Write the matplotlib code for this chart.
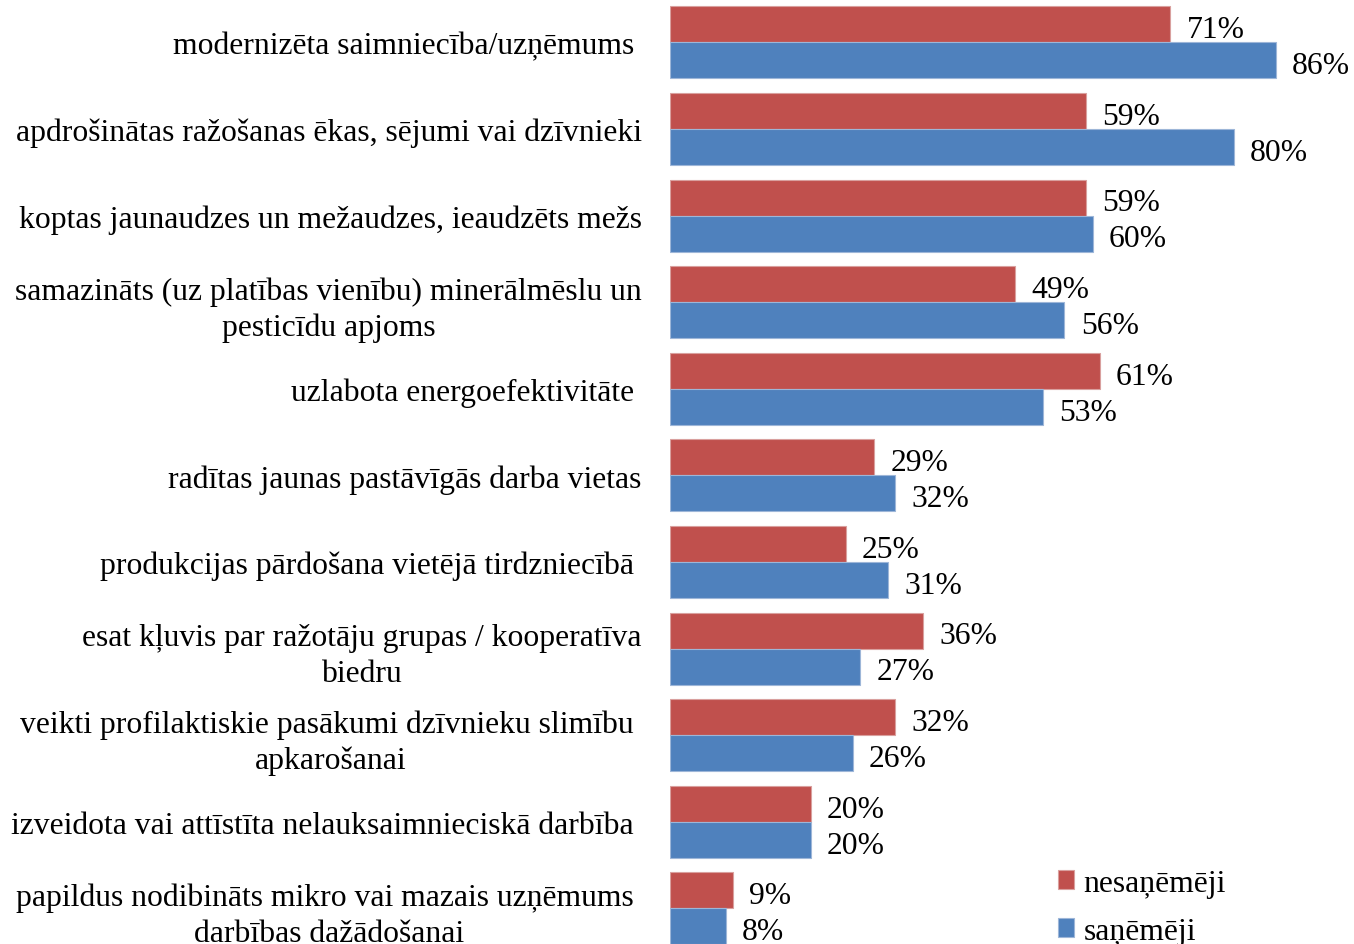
import matplotlib.pyplot as plt
import numpy as np

plt.rcParams['font.family'] = ['Liberation Serif', 'DejaVu Serif']

categories = [
    "modernizēta saimniecība/uzņēmums ",
    "apdrošinātas ražošanas ēkas, sējumi vai dzīvnieki",
    "koptas jaunaudzes un mežaudzes, ieaudzēts mežs",
    "samazināts (uz platības vienību) minerālmēslu un\npesticīdu apjoms",
    "uzlabota energoefektivitāte ",
    "radītas jaunas pastāvīgās darba vietas",
    "produkcijas pārdošana vietējā tirdzniecībā ",
    "esat kļuvis par ražotāju grupas / kooperatīva\nbiedru",
    "veikti profilaktiskie pasākumi dzīvnieku slimību \napkarošanai",
    "izveidota vai attīstīta nelauksaimnieciskā darbība ",
    "papildus nodibināts mikro vai mazais uzņēmums \ndarbības dažādošanai",
]
nesanemeji = [71, 59, 59, 49, 61, 29, 25, 36, 32, 20, 9]
sanemeji = [86, 80, 60, 56, 53, 32, 31, 27, 26, 20, 8]

red = '#C0504D'
blue = '#4F81BD'
fs = 22.8

fig = plt.figure(figsize=(13.54, 9.45), dpi=100)
ax = fig.add_axes([0.4945, 0.0, 0.5055, 1.0])

y = np.arange(len(categories))
h = 0.4157
b1 = ax.barh(y - h / 2, nesanemeji, height=h, color=red, edgecolor='#D9A09E',
             linewidth=0.8, label='nesaņēmēji')
b2 = ax.barh(y + h / 2, sanemeji, height=h, color=blue, edgecolor='#9DB6D8',
             linewidth=0.8, label='saņēmēji')

for bars, vals in ((b1, nesanemeji), (b2, sanemeji)):
    for bar, v in zip(bars, vals):
        ax.text(bar.get_width() + 2.3, bar.get_y() + bar.get_height() / 2 + 0.02,
                f"{v}%", va='center_baseline', ha='left', fontsize=fs)

ax.set_xlim(0, 97.07)
ax.set_ylim(10.41, -0.50)
ax.set_yticks(y)
ax.set_yticklabels(categories, fontsize=fs, multialignment='center',
                   linespacing=1.3)
ax.tick_params(axis='y', length=0, pad=20)
ax.set_xticks([])
for s in ax.spines.values():
    s.set_visible(False)

fig.legend(handles=[b1, b2], loc='lower left', bbox_to_anchor=(0.7605, -0.032),
           frameon=False, fontsize=fs, handlelength=0.5, handleheight=0.5,
           handletextpad=0.3, labelspacing=0.6)

fig.savefig('out.png', dpi=100)
